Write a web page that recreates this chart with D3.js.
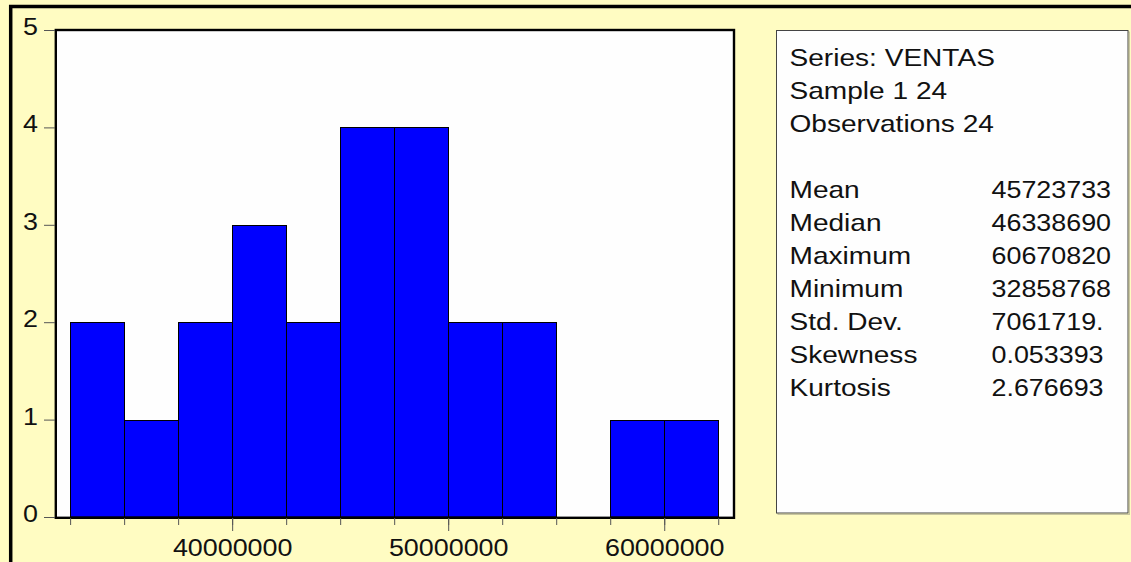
<!DOCTYPE html>
<html>
<head>
<meta charset="utf-8">
<script src="https://cdn.jsdelivr.net/npm/d3@7/dist/d3.min.js"></script>
<style>
  html, body { margin: 0; padding: 0; background: #FFFCC2; }
  svg { display: block; }
  text { font-family: "Liberation Sans", Arial, sans-serif; fill: #111; }
</style>
</head>
<body>
<svg id="chart" width="1131" height="562"></svg>
<script>
// Histogram of VENTAS: bin edges (lower bounds) and counts per bin
const binStarts = [32500000, 35000000, 37500000, 40000000, 42500000, 45000000,
                   47500000, 50000000, 52500000, 55000000, 57500000, 60000000];
const binWidth = 2500000;
const counts = [2, 1, 2, 3, 2, 4, 4, 2, 2, 0, 1, 1];

// Axis ticks
const xMinorTicks = [32500000, 35000000, 37500000, 40000000, 42500000, 45000000, 47500000,
                     50000000, 52500000, 55000000, 57500000, 60000000, 62500000];
const xMajorTicks = [40000000, 50000000, 60000000];
const yTicks = [0, 1, 2, 3, 4, 5];

// Descriptive statistics panel
const headerLines = ["Series: VENTAS", "Sample 1 24", "Observations 24"];
const statNames = ["Mean", "Median", "Maximum", "Minimum", "Std. Dev.", "Skewness", "Kurtosis"];
const statValues = ["45723733", "46338690", "60670820", "32858768", "7061719.", "0.053393", "2.676693"];

const svg = d3.select("#chart");
const W = 1131, H = 562;
const stretch = 1.12;       // the text face is set slightly wide
const labelStretch = 1.17;  // panel captions run a little wider still
const fs = 24;

// Window frame: yellow ground with heavy black edge at top and left
svg.append("rect").attr("x", 0).attr("y", 0).attr("width", W).attr("height", H).attr("fill", "#FFFCC2");
svg.append("line").attr("x1", 9).attr("x2", W).attr("y1", 6.5).attr("y2", 6.5)
  .attr("stroke", "#000").attr("stroke-width", 3.5);
svg.append("line").attr("x1", 10.7).attr("x2", 10.7).attr("y1", 5).attr("y2", H)
  .attr("stroke", "#000").attr("stroke-width", 3.5);

// Plot area
const plot = { left: 55, right: 734, top: 30, bottom: 517 };
const x = d3.scaleLinear().domain([31800000, 63230000]).range([plot.left, plot.right]);
const y = d3.scaleLinear().domain([0, 5]).range([plot.bottom, plot.top]);

svg.append("rect")
  .attr("x", plot.left).attr("y", plot.top)
  .attr("width", plot.right - plot.left).attr("height", plot.bottom - plot.top)
  .attr("fill", "#FEFEFE");

// Bars
const snap = v => Math.round(v) + 0.5;
svg.append("g").selectAll("rect")
  .data(binStarts.map((s, i) => ({ s, c: counts[i] })).filter(d => d.c > 0))
  .join("rect")
  .attr("x", d => snap(x(d.s)))
  .attr("y", d => snap(y(d.c)))
  .attr("width", d => snap(x(d.s + binWidth)) - snap(x(d.s)))
  .attr("height", d => y(0) - snap(y(d.c)))
  .attr("fill", "#0000FF")
  .attr("stroke", "#000")
  .attr("stroke-width", 1);

// Plot frame
svg.append("rect")
  .attr("x", plot.left + 0.8).attr("y", plot.top)
  .attr("width", plot.right - plot.left - 0.8).attr("height", plot.bottom - plot.top + 0.8)
  .attr("fill", "none").attr("stroke", "#000").attr("stroke-width", 2.4);

// Y axis ticks and labels
const yAxis = d3.axisLeft(y).tickValues(yTicks).tickSize(11).tickPadding(0).tickFormat(d3.format("d"));
const gy = svg.append("g").attr("transform", `translate(${plot.left},0)`).call(yAxis);
gy.select(".domain").remove();
gy.selectAll(".tick line").attr("stroke", "#555").attr("stroke-width", 1);
gy.selectAll(".tick text")
  .attr("x", null).attr("dy", null)
  .attr("transform", `translate(-17,4.5) scale(${stretch},1)`)
  .attr("text-anchor", "end")
  .style("font-size", fs + "px")
  .style("font-family", "'Liberation Sans', Arial, sans-serif")
  .attr("fill", "#111");

// X axis: short ticks at every bin edge, longer ticks at labelled values
const gxMinor = svg.append("g").attr("transform", `translate(0,${plot.bottom + 1})`)
  .call(d3.axisBottom(x).tickValues(xMinorTicks).tickSize(7).tickFormat(""));
gxMinor.select(".domain").remove();
gxMinor.selectAll(".tick line").attr("stroke", "#555").attr("stroke-width", 1);

const gx = svg.append("g").attr("transform", `translate(0,${plot.bottom + 1})`)
  .call(d3.axisBottom(x).tickValues(xMajorTicks).tickSize(13).tickPadding(0).tickFormat(d3.format("d")));
gx.select(".domain").remove();
gx.selectAll(".tick line").attr("stroke", "#555").attr("stroke-width", 1);
gx.selectAll(".tick text")
  .attr("y", null).attr("dy", null)
  .attr("transform", `translate(0,37.5) scale(${stretch},1)`)
  .attr("text-anchor", "middle")
  .style("font-size", fs + "px")
  .style("font-family", "'Liberation Sans', Arial, sans-serif")
  .attr("fill", "#111");

// Statistics panel
const box = { x: 776.5, y: 30.5, w: 351.5, h: 482.5 };
svg.append("rect")
  .attr("x", box.x + 1.5).attr("y", box.y + 1.5).attr("width", box.w).attr("height", box.h)
  .attr("fill", "none").attr("stroke", "#C8C6A0").attr("stroke-width", 1);
svg.append("rect")
  .attr("x", box.x).attr("y", box.y).attr("width", box.w).attr("height", box.h)
  .attr("fill", "#FEFEFE").attr("stroke", "#444").attr("stroke-width", 1);

const lineH = 33;
const textX = 789.5, valueX = 991.5, firstBase = 66;
const placeText = (sel, tx, ty, sx) => sel
  .attr("transform", `translate(${tx},${ty}) scale(${sx},1)`)
  .style("font-size", fs + "px");

headerLines.forEach((t, i) => {
  placeText(svg.append("text").text(t), textX, firstBase + i * lineH, labelStretch);
});
statNames.forEach((t, i) => {
  const base = firstBase + (i + 4) * lineH;
  placeText(svg.append("text").text(t), textX, base, labelStretch);
  placeText(svg.append("text").text(statValues[i]), valueX, base, stretch);
});
</script>
</body>
</html>
